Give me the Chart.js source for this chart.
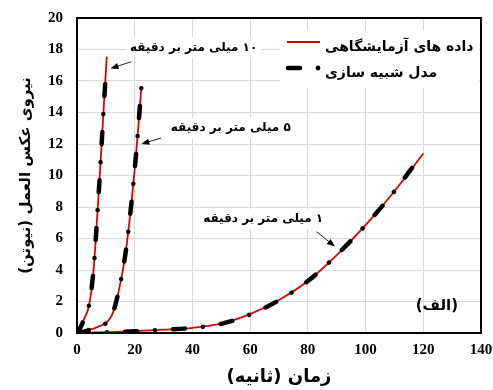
<!DOCTYPE html>
<html>
<head>
<meta charset="utf-8">
<script src="https://cdn.jsdelivr.net/npm/chart.js@4.4.1/dist/chart.umd.min.js"></script>
<style>
  html, body { margin: 0; padding: 0; background: #fff; }
  #wrap { width: 493px; height: 390px; }
  canvas { direction: rtl; }
</style>
</head>
<body>
<div id="wrap"><canvas id="c" width="493" height="390"></canvas></div>
<script>
// Reaction force (N) against time (s) at three crosshead speeds.

// 10 mm/min
const time10 = [0, 1, 2, 3, 4, 5, 6, 7, 8, 9, 10, 10.3];
const exp10 = [0, 0.3, 0.7, 1.1, 1.6, 2.7, 4.6, 7.4, 10.3, 13.5, 16.6, 17.55];
const modelTime10 = [0, 1, 2, 3, 4, 5, 6, 7, 8, 9, 10];
const model10 = [0, 0.28, 0.68, 1.1, 1.62, 2.75, 4.6, 7.4, 10.3, 13.5, 16.55];

// 5 mm/min
const time5 = [0, 2, 4, 6, 8, 10, 12, 13, 14, 15, 16, 17, 18, 19, 20, 21, 22, 22.3];
const exp5 = [0, 0.08, 0.2, 0.3, 0.45, 0.62, 1.1, 1.6, 2.3, 3.15, 4.1, 5.3, 6.8, 8.5, 10.4, 12.5, 14.9, 15.6];
const modelTime5 = [0, 2, 4, 6, 8, 10, 12, 13, 14, 15, 16, 17, 18, 19, 20, 21, 22, 22.3];
const model5 = [0, 0.07, 0.18, 0.3, 0.44, 0.62, 1.12, 1.6, 2.3, 3.15, 4.12, 5.3, 6.8, 8.5, 10.4, 12.5, 14.9, 15.6];

// 1 mm/min
const time1 = [0, 10, 20, 30, 40, 50, 60, 70, 80, 90, 100, 110, 120];
const exp1 = [0, 0.05, 0.12, 0.21, 0.33, 0.6, 1.2, 2.1, 3.3, 4.95, 6.85, 9.0, 11.4];
const modelTime1 = [0, 10, 20, 30, 40, 50, 60, 70, 80, 90, 100, 110, 118];
const model1 = [0, 0.05, 0.11, 0.2, 0.32, 0.58, 1.18, 2.08, 3.3, 4.95, 6.85, 9.0, 10.95];

// axis ticks
const xTicks = [0, 20, 40, 60, 80, 100, 120, 140];
const yTicks = [0, 2, 4, 6, 8, 10, 12, 14, 16, 18, 20];

// texts
const legendLabels = ['داده های آزمایشگاهی', 'مدل شبیه سازی'];
const xTitle = 'زمان (ثانیه)';
const yTitle = 'نیروی عکس العمل (نیوتن)';
const speedLabels = ['۱۰ میلی متر بر دقیقه', '۵ میلی متر بر دقیقه', '۱ میلی متر بر دقیقه'];
const panelLabel = '(الف)';

// label centres and arrow (tail -> head) in data units
const labelAt = [[40.4, 18.13], [53.3, 13.0], [64.5, 7.24]];
const arrowFrom = [[18.8, 17.22], [29.2, 12.38], [83.0, 6.43]];
const arrowTo = [[11.6, 16.8], [22.3, 12.0], [89.4, 5.5]];
const panelAt = [124.7, 1.7];

const RED = '#e00000';
const BLACK = '#000000';
const FA = "'DejaVu Sans', sans-serif";

const pts = (xs, ys) => xs.map((x, i) => ({ x, y: ys[i] }));

const expStyle = {
  borderColor: RED, borderWidth: 1.8, pointRadius: 0,
  cubicInterpolationMode: 'monotone', order: 2
};
const modelStyle = {
  borderColor: BLACK, borderWidth: 4.5, pointRadius: 0,
  borderDash: [12, 18, 0.01, 18], borderCapStyle: 'round',
  cubicInterpolationMode: 'monotone', order: 1
};

const datasets = [
  { label: legendLabels[0], data: pts(time10, exp10), ...expStyle },
  { label: legendLabels[0], data: pts(time5, exp5), ...expStyle },
  { label: legendLabels[0], data: pts(time1, exp1), ...expStyle },
  { label: legendLabels[1], data: pts(modelTime10, model10), ...modelStyle },
  { label: legendLabels[1], data: pts(modelTime5, model5), ...modelStyle },
  { label: legendLabels[1], data: pts(modelTime1, model1), ...modelStyle }
];

function arrow(ctx, x1, y1, x2, y2) {
  const a = Math.atan2(y2 - y1, x2 - x1);
  const L = 8, W = 3.2;
  ctx.beginPath();
  ctx.moveTo(x1, y1);
  ctx.lineTo(x2 - L * 0.7 * Math.cos(a), y2 - L * 0.7 * Math.sin(a));
  ctx.strokeStyle = '#222';
  ctx.lineWidth = 1;
  ctx.stroke();
  ctx.beginPath();
  ctx.moveTo(x2, y2);
  ctx.lineTo(x2 - L * Math.cos(a) + W * Math.sin(a), y2 - L * Math.sin(a) - W * Math.cos(a));
  ctx.lineTo(x2 - L * Math.cos(a) - W * Math.sin(a), y2 - L * Math.sin(a) + W * Math.cos(a));
  ctx.closePath();
  ctx.fillStyle = '#000';
  ctx.fill();
}

function boxedText(ctx, text, cx, cy) {
  const w = ctx.measureText(text).width;
  ctx.fillStyle = '#fff';
  ctx.fillRect(cx - w / 2 - 4, cy - 10, w + 8, 20);
  ctx.fillStyle = '#000';
  ctx.fillText(text, cx, cy);
}

const decor = {
  id: 'decor',
  afterDatasetsDraw(chart) {
    const { ctx, chartArea: ca, scales: { x, y } } = chart;
    ctx.save();
    ctx.direction = 'rtl';
    ctx.textBaseline = 'middle';

    // speed labels with arrows
    ctx.font = `bold 12px ${FA}`;
    ctx.textAlign = 'center';
    for (let i = 0; i < speedLabels.length; i++) {
      boxedText(ctx, speedLabels[i], x.getPixelForValue(labelAt[i][0]), y.getPixelForValue(labelAt[i][1]));
      arrow(ctx,
        x.getPixelForValue(arrowFrom[i][0]), y.getPixelForValue(arrowFrom[i][1]),
        x.getPixelForValue(arrowTo[i][0]), y.getPixelForValue(arrowTo[i][1]));
    }

    // panel tag
    ctx.font = `bold 15px ${FA}`;
    ctx.fillStyle = '#000';
    ctx.fillText(panelLabel, x.getPixelForValue(panelAt[0]), y.getPixelForValue(panelAt[1]));

    // legend
    const bx = ca.right - 201, by = ca.top + 12, bw = 199, bh = 58;
    ctx.fillStyle = '#fff';
    ctx.fillRect(bx, by, bw, bh);
    ctx.font = `bold 14px ${FA}`;
    ctx.textAlign = 'left';
    ctx.fillStyle = '#000';
    ctx.fillText(legendLabels[0], bx + 45, by + 17);
    ctx.fillText(legendLabels[1], bx + 45, by + 43);

    ctx.beginPath();
    ctx.moveTo(bx + 7, by + 12);
    ctx.lineTo(bx + 40, by + 12);
    ctx.strokeStyle = RED;
    ctx.lineWidth = 1.8;
    ctx.stroke();

    ctx.beginPath();
    ctx.moveTo(bx + 8, by + 38);
    ctx.lineTo(bx + 20, by + 38);
    ctx.strokeStyle = BLACK;
    ctx.lineWidth = 4.5;
    ctx.lineCap = 'round';
    ctx.stroke();
    ctx.beginPath();
    ctx.arc(bx + 38, by + 38, 2.4, 0, Math.PI * 2);
    ctx.fillStyle = BLACK;
    ctx.fill();

    // plot frame
    ctx.lineCap = 'butt';
    ctx.strokeStyle = '#000';
    ctx.lineWidth = 2;
    ctx.strokeRect(ca.left, ca.top, ca.right - ca.left, ca.bottom - ca.top);
    ctx.restore();
  }
};

const tickFont = { family: "'Liberation Serif', serif", weight: 'bold', size: 15 };

new Chart(document.getElementById('c'), {
  type: 'line',
  data: { datasets },
  options: {
    responsive: false,
    animation: false,
    events: [],
    layout: { padding: { left: 0, top: 18, right: 12, bottom: 0 } },
    plugins: { legend: { display: false }, tooltip: { enabled: false } },
    scales: {
      x: {
        type: 'linear', min: 0, max: 140,
        afterBuildTicks: s => { s.ticks = xTicks.map(v => ({ value: v })); },
        afterFit: s => { s.height = 57; s.paddingLeft = 0; s.paddingRight = 0; },
        grid: { color: '#d9d9d9', lineWidth: 1, drawTicks: false },
        border: { display: true, color: '#000', width: 2 },
        ticks: { font: tickFont, color: '#000', padding: 8, maxRotation: 0 },
        title: {
          display: true, text: xTitle, color: '#000',
          font: { family: FA, weight: 'bold', size: 18 },
          padding: { top: 0, bottom: 2 }
        }
      },
      y: {
        type: 'linear', min: 0, max: 20,
        afterBuildTicks: s => { s.ticks = yTicks.map(v => ({ value: v })); },
        afterFit: s => { s.width = 77; s.paddingTop = 0; s.paddingBottom = 0; },
        grid: { color: '#d9d9d9', lineWidth: 1, drawTicks: false },
        border: { display: true, color: '#000', width: 2 },
        ticks: { font: tickFont, color: '#000', padding: 14 },
        title: {
          display: true, text: yTitle, color: '#000',
          font: { family: FA, weight: 'bold', size: 15 },
          padding: { top: 17, bottom: 0 }
        }
      }
    }
  },
  plugins: [decor]
});
</script>
</body>
</html>
